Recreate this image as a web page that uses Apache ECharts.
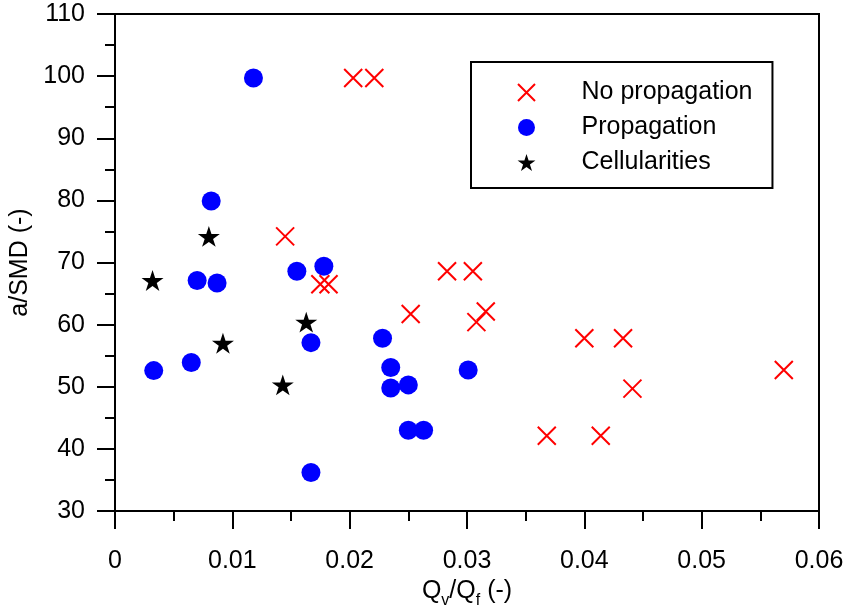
<!DOCTYPE html>
<html>
<head>
<meta charset="utf-8">
<script src="https://cdn.jsdelivr.net/npm/echarts@6/dist/echarts.min.js"></script>
<style>
html,body{margin:0;padding:0;background:#fff;}
#chart{width:845px;height:605px;}
</style>
</head>
<body>
<div id="chart"></div>
<script>
// ---- data ----
const noPropX = [0.0203, 0.0221, 0.0145, 0.0175, 0.0182, 0.0283, 0.0305, 0.0252, 0.0308, 0.0316, 0.0400, 0.0433, 0.0441, 0.0368, 0.0414, 0.0570];
const noPropY = [99.7, 99.7, 74.2, 66.5, 66.5, 68.6, 68.6, 61.7, 60.4, 62.1, 57.8, 57.8, 49.7, 42.1, 42.1, 52.7];

const propX = [0.0118, 0.0082, 0.0155, 0.0178, 0.0070, 0.0087, 0.0167, 0.0033, 0.0065, 0.0228, 0.0235, 0.0235, 0.0250, 0.0250, 0.0263, 0.0167, 0.0301];
const propY = [99.7, 79.9, 68.6, 69.4, 67.1, 66.7, 57.1, 52.6, 53.9, 57.8, 53.1, 49.8, 50.3, 43.0, 43.0, 36.2, 52.7];

const cellX = [0.0032, 0.0080, 0.0092, 0.0163, 0.0143];
const cellY = [67.1, 74.2, 57.0, 60.4, 50.3];

const seriesNames = ['No propagation', 'Propagation', 'Cellularities'];
const xTicks = {min: 0, max: 0.06, interval: 0.01};
const yTicks = {min: 30, max: 110, interval: 10};

// ---- helpers ----
const pairs = (xs, ys) => xs.map((x, i) => [x, ys[i]]);
const FONT = "'Liberation Sans', Arial, Helvetica, sans-serif";
const FS = 25;
const CROSS = 'path://M0,0L10,10M10,0L0,10';
const STAR = 'path://M50,0L61.23,34.55L97.55,34.55L68.16,55.9L79.39,90.45L50,69.1L20.61,90.45L31.84,55.9L2.45,34.55L38.77,34.55Z';

const chart = echarts.init(document.getElementById('chart'), null, {renderer: 'canvas'});

const axisCommon = {
  axisLine: {show: true, onZero: false, lineStyle: {color: '#000', width: 2}},
  axisTick: {show: true, inside: false, length: 18, lineStyle: {color: '#000', width: 2}},
  minorTick: {show: true, splitNumber: 2, length: 10, lineStyle: {color: '#000', width: 2}},
  splitLine: {show: false},
  axisLabel: {color: '#000', fontFamily: FONT, fontSize: FS}
};

chart.setOption({
  animation: false,
  backgroundColor: '#fff',
  textStyle: {fontFamily: FONT},
  grid: {
    left: 115, top: 14, width: 704, height: 497,
    containLabel: false, outerBoundsMode: 'none',
    show: true, borderColor: '#000', borderWidth: 2, backgroundColor: 'transparent'
  },
  legend: {
    orient: 'vertical',
    left: 471,
    top: 62,
    data: seriesNames,
    itemWidth: 100,
    itemHeight: 17,
    itemGap: 10,
    padding: [18, 20, 13, 46],
    borderColor: '#000',
    borderWidth: 2,
    backgroundColor: '#fff',
    textStyle: {color: '#000', fontFamily: FONT, fontSize: FS, lineHeight: 24}
  },
  xAxis: Object.assign({}, axisCommon, {
    type: 'value',
    min: xTicks.min, max: xTicks.max, interval: xTicks.interval,
    axisLabel: Object.assign({}, axisCommon.axisLabel, {margin: 38}),
    name: '{a|Q}{s|v}{a|/Q}{s|f}{a| (-)}',
    nameLocation: 'middle',
    nameGap: 64,
    nameTextStyle: {
      color: '#000', fontFamily: FONT, fontSize: FS,
      rich: {
        a: {fontSize: FS, lineHeight: 24, fontFamily: FONT, color: '#000', verticalAlign: 'top'},
        s: {fontSize: 16, lineHeight: 16, fontFamily: FONT, color: '#000', verticalAlign: 'top', padding: [14, 0, 0, 0]}
      }
    }
  }),
  yAxis: Object.assign({}, axisCommon, {
    type: 'value',
    min: yTicks.min, max: yTicks.max, interval: yTicks.interval,
    axisLabel: Object.assign({}, axisCommon.axisLabel, {margin: 30}),
    name: 'a/SMD (-)',
    nameLocation: 'middle',
    nameGap: 76,
    nameRotate: 90,
    nameTextStyle: {color: '#000', fontFamily: FONT, fontSize: FS}
  }),
  series: [
    {
      name: 'Propagation',
      type: 'scatter',
      data: pairs(propX, propY),
      symbol: 'circle',
      symbolSize: 19,
      itemStyle: {color: '#0000ff', opacity: 1},
      z: 2
    },
    {
      name: 'No propagation',
      type: 'scatter',
      data: pairs(noPropX, noPropY),
      symbol: CROSS,
      symbolSize: 18,
      symbolKeepAspect: true,
      itemStyle: {color: 'rgba(0,0,0,0)', borderColor: '#ff0000', borderWidth: 2, opacity: 1},
      z: 3
    },
    {
      name: 'Cellularities',
      type: 'scatter',
      data: pairs(cellX, cellY),
      symbol: STAR,
      symbolSize: 22,
      symbolKeepAspect: true,
      itemStyle: {color: '#000', opacity: 1},
      z: 4
    }
  ]
});
</script>
</body>
</html>
